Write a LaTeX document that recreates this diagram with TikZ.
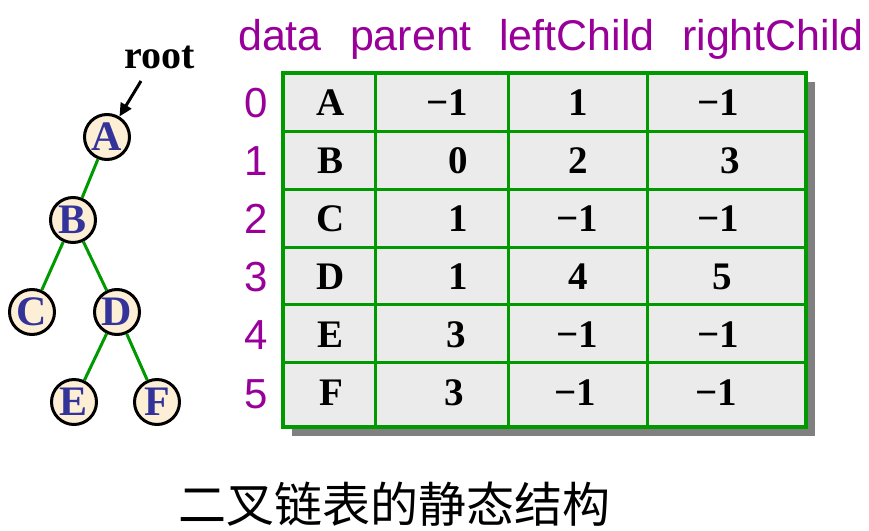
\documentclass[tikz,border=0pt]{standalone}
\usepackage{fontspec}
\setmainfont{Liberation Serif}
\newfontfamily\arialf{Liberation Sans}
\newfontfamily\cjkf{Noto Sans CJK SC}
\usetikzlibrary{arrows.meta}
\definecolor{tgreen}{HTML}{009900}
\definecolor{tpurple}{HTML}{990099}
\definecolor{tblue}{HTML}{333399}
\definecolor{tfill}{HTML}{FDEFD6}
\definecolor{cellbg}{HTML}{EBEBEB}
\definecolor{shadowc}{HTML}{808080}
\begin{document}
\begin{tikzpicture}[x=1pt,y=-1pt,
  treenode/.style={circle,draw=black,line width=3pt,fill=tfill,minimum size=45pt,inner sep=0pt,
    text=tblue,font=\bfseries\fontsize{42}{42}\selectfont},
  treeedge/.style={tgreen,line width=3pt},
  hdr/.style={text=tpurple,font=\arialf\fontsize{43}{43}\selectfont,anchor=base,inner sep=0pt},
  idx/.style={text=tpurple,font=\arialf\fontsize{42}{42}\selectfont,anchor=base,inner sep=0pt},
  cell/.style={font=\bfseries\fontsize{39}{39}\selectfont,anchor=base,inner sep=0pt},
  cellr/.style={cell,anchor=base east},
  gridline/.style={tgreen,line width=3pt}]
\useasboundingbox (0,0) rectangle (869,530);

% tree
\node[treenode] (A) at (107,137) {A};
\node[treenode] (B) at (73,220) {B};
\node[treenode] (C) at (32,312) {C};
\node[treenode] (D) at (117,312) {D};
\node[treenode] (E) at (74,402) {E};
\node[treenode] (F) at (157,402) {F};
\draw[treeedge] (A) -- (B);
\draw[treeedge] (B) -- (C);
\draw[treeedge] (B) -- (D);
\draw[treeedge] (D) -- (E);
\draw[treeedge] (D) -- (F);
\node[font=\bfseries\fontsize{40}{40}\selectfont,anchor=base,inner sep=0pt] (root) at (160,68) {root};
\coordinate (rs) at (141,81);
\draw[line width=3pt,-{Triangle[length=13pt,width=12pt]}] (rs) -- (A);

% headers
\node[hdr] (h1) at (280,50) {data};
\node[hdr] (h2) at (411,50) {parent};
\node[hdr] (h3) at (577,50) {leftChild};
\node[hdr] (h4) at (773,50) {rightChild};

% table
\fill[shadowc] (292,82) rectangle (815,436);
\fill[cellbg] (283,73) rectangle (806,427);
\foreach \y in {131,189,247,304,362} \draw[gridline] (283,\y) -- (806,\y);
\foreach \x in {375,508,647} \draw[gridline] (\x,73) -- (\x,427);
\draw[tgreen,line width=4pt] (283,73) rectangle (806,427);

% indices
\node[idx] (i0) at (256,117) {0};
\node[idx] (i1) at (256,175) {1};
\node[idx] (i2) at (256,233) {2};
\node[idx] (i3) at (256,291) {3};
\node[idx] (i4) at (256,349) {4};
\node[idx] (i5) at (256,408) {5};

% cells row 0
\node[cell] (r0a) at (331,115) {A};
\node[cellr] (r0b) at (468,115) {−1};
\node[cell] (r0c) at (578,115) {1};
\node[cell] (r0d) at (718,115) {−1};
% row 1
\node[cell] (r1a) at (331,173) {B};
\node[cellr] (r1b) at (468,173) {0};
\node[cell] (r1c) at (578,173) {2};
\node[cell] (r1d) at (730,173) {3};
% row 2
\node[cell] (r2a) at (331,231) {C};
\node[cellr] (r2b) at (468,231) {1};
\node[cell] (r2c) at (577,231) {−1};
\node[cell] (r2d) at (718,231) {−1};
% row 3
\node[cell] (r3a) at (331,289) {D};
\node[cellr] (r3b) at (468,289) {1};
\node[cell] (r3c) at (578,289) {4};
\node[cell] (r3d) at (722,289) {5};
% row 4
\node[cell] (r4a) at (331,347) {E};
\node[cellr] (r4b) at (466,347) {3};
\node[cell] (r4c) at (577,347) {−1};
\node[cell] (r4d) at (718,347) {−1};
% row 5
\node[cell] (r5a) at (331,405) {F};
\node[cellr] (r5b) at (464,405) {3};
\node[cell] (r5c) at (575,405) {−1};
\node[cell] (r5d) at (716,405) {−1};

% caption
\node[font=\cjkf\fontsize{48}{48}\selectfont,anchor=base,inner sep=0pt] (cap) at (394,522) {二叉链表的静态结构};
\end{tikzpicture}
\end{document}
